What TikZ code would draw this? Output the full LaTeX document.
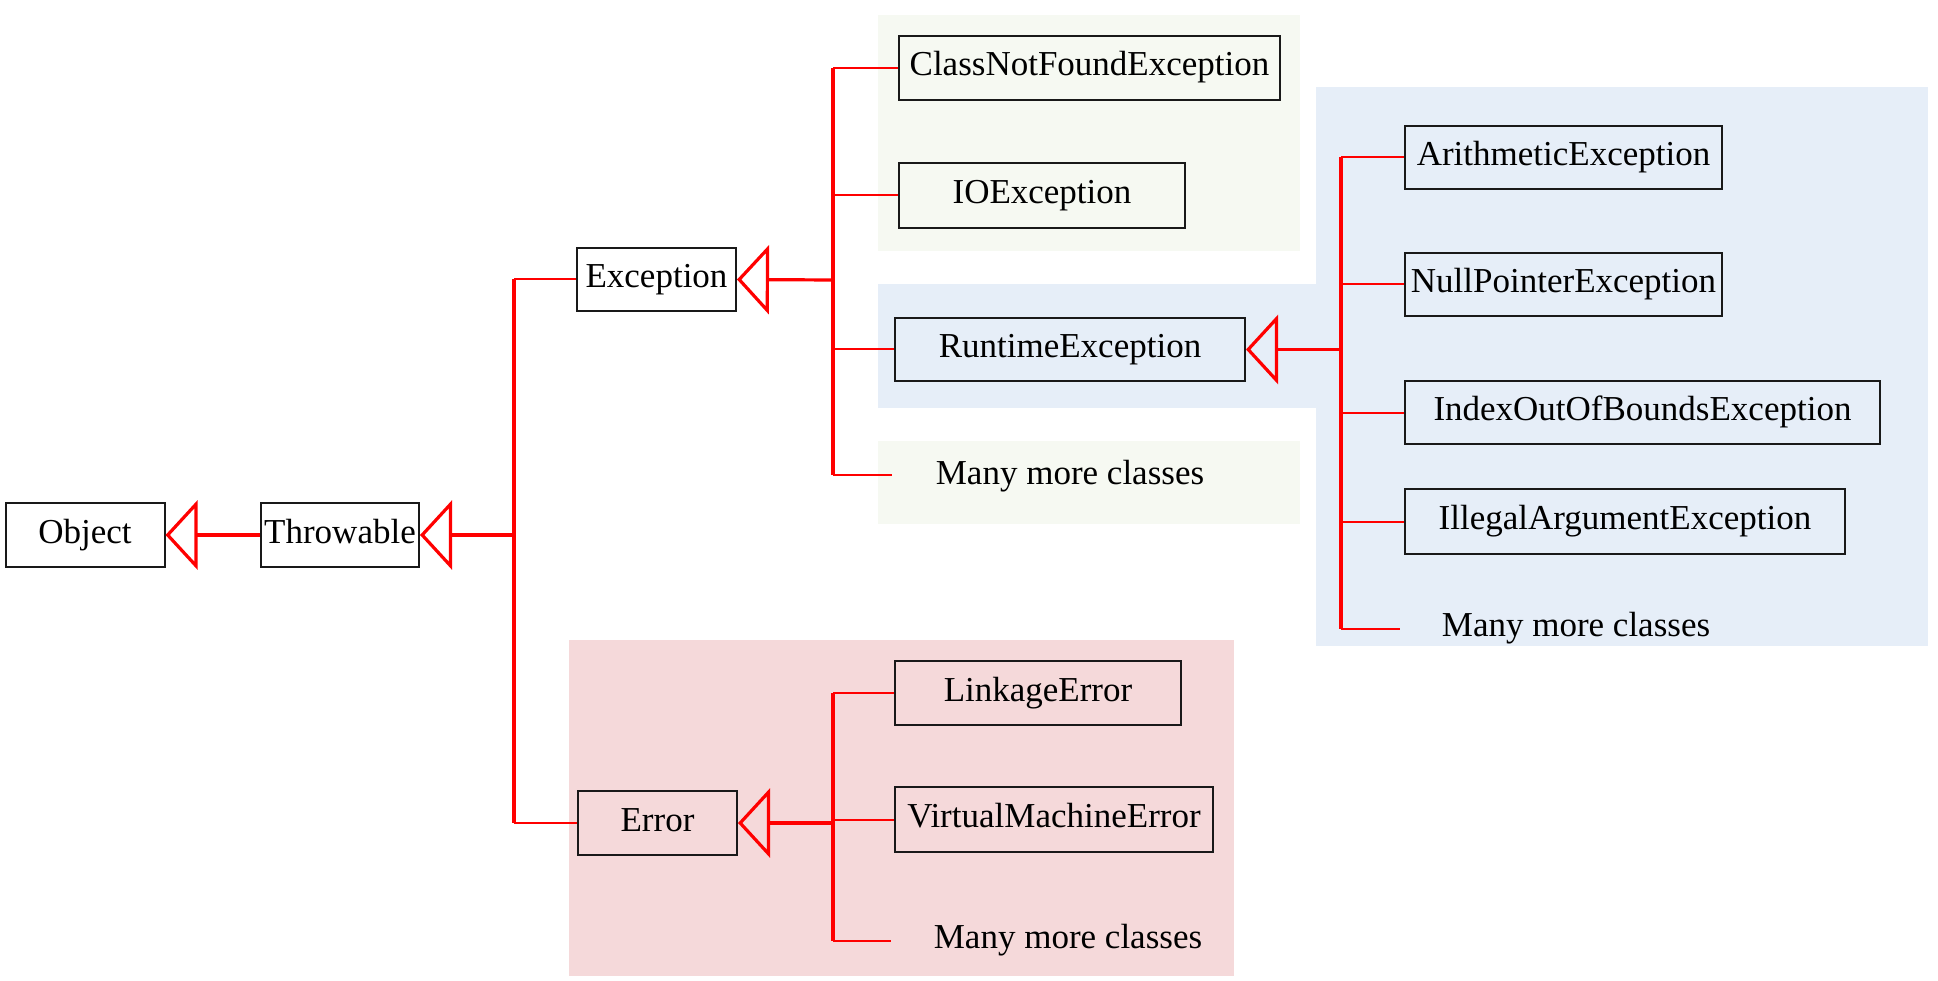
\documentclass[tikz,border=0pt]{standalone}
\usepackage{fontspec}
\setmainfont{Liberation Serif}
\usetikzlibrary{arrows.meta}
\definecolor{bggreen}{HTML}{F6F9F2}
\definecolor{bgblue}{HTML}{E6EEF8}
\definecolor{bgpink}{HTML}{F5D9DA}
\definecolor{linkred}{HTML}{FF0000}
\begin{document}
\begin{tikzpicture}[x=1pt,y=-1pt,
  txt/.style={inner sep=0pt, text height=24pt, text depth=8pt,
    font=\fontsize{35}{42}\selectfont},
  cls/.style={txt, draw=black!90, line width=2pt, anchor=center},
  bus/.style={draw=linkred, line width=3.5pt},
  stub/.style={draw=linkred, line width=2pt},
  inh/.style={draw=linkred, line width=3.2pt,
    -{Triangle[open, length=32pt, width=69pt]}}]
  \useasboundingbox (0,0) rectangle (1938,981);

  % background panels
  \fill[bggreen] (878,15) rectangle (1300,251);
  \fill[bggreen] (878,441) rectangle (1300,524);
  \fill[bgblue] (1316,87) rectangle (1928,646);
  \fill[bgblue] (878,284) rectangle (1316,408);
  \fill[bgpink] (569,640) rectangle (1234,976);

  % class boxes
  \node[cls, minimum width=159pt, minimum height=64pt] (obj) at (85,535) {Object};
  \node[cls, minimum width=158pt, minimum height=64pt] (thr) at (340,535) {Throwable};
  \node[cls, minimum width=159pt, minimum height=63pt] (exc) at (656.5,279.5) {Exception};
  \node[cls, minimum width=159pt, minimum height=64pt] (err) at (657.5,823) {Error};
  \node[cls, minimum width=381pt, minimum height=64pt] (cnf) at (1089.5,68) {ClassNotFoundException};
  \node[cls, minimum width=286pt, minimum height=65pt] (ioe) at (1042,195.5) {IOException};
  \node[cls, minimum width=350pt, minimum height=63pt] (rte) at (1070,349.5) {RuntimeException};
  \node[cls, minimum width=286pt, minimum height=64pt] (lnk) at (1038,693) {LinkageError};
  \node[cls, minimum width=318pt, minimum height=65pt] (vme) at (1054,819.5) {VirtualMachineError};
  \node[cls, minimum width=317pt, minimum height=63pt] (ari) at (1563.5,157.5) {ArithmeticException};
  \node[cls, minimum width=317pt, minimum height=63pt] (npe) at (1563.5,284.5) {NullPointerException};
  \node[cls, minimum width=475pt, minimum height=63pt] (iob) at (1642.5,412.5) {IndexOutOfBoundsException};
  \node[cls, minimum width=440pt, minimum height=65pt] (iae) at (1625,521.5) {IllegalArgumentException};

  % "many more" labels
  \node[txt] (mm1) at (1070,476) {Many more classes};
  \node[txt] (mm2) at (1576,628) {Many more classes};
  \node[txt] (mm3) at (1068,940) {Many more classes};

  % bus points and free stub ends
  \coordinate (tb) at (514,535);
  \coordinate (eb) at (833,280);
  \coordinate (rb) at (1341,349.5);
  \coordinate (xb) at (833,823);
  \coordinate (e4) at (892,475);
  \coordinate (r5) at (1400,629);
  \coordinate (x3) at (891,941);

  % Object <- Throwable
  \draw[inh] (thr.west) -- (obj.east);

  % Throwable <- Exception, Error
  \draw[bus] (tb |- exc.west) -- (tb |- err.west);
  \draw[stub] (tb |- exc.west) -- (exc.west);
  \draw[stub] (tb |- err.west) -- (err.west);
  \draw[inh] (tb) -- (thr.east);

  % Exception subclasses
  \draw[bus] (eb |- cnf.west) -- (eb |- e4);
  \draw[stub] (eb |- cnf.west) -- (cnf.west);
  \draw[stub] (eb |- ioe.west) -- (ioe.west);
  \draw[stub] (eb |- rte.west) -- (rte.west);
  \draw[stub] (eb |- e4) -- (e4);
  \draw[inh] (eb) -- (exc.east);

  % RuntimeException subclasses
  \draw[bus] (rb |- ari.west) -- (rb |- r5);
  \draw[stub] (rb |- ari.west) -- (ari.west);
  \draw[stub] (rb |- npe.west) -- (npe.west);
  \draw[stub] (rb |- iob.west) -- (iob.west);
  \draw[stub] (rb |- iae.west) -- (iae.west);
  \draw[stub] (rb |- r5) -- (r5);
  \draw[inh] (rb) -- (rte.east);

  % Error subclasses
  \draw[bus] (xb |- lnk.west) -- (xb |- x3);
  \draw[stub] (xb |- lnk.west) -- (lnk.west);
  \draw[stub] (xb |- vme.west) -- (vme.west);
  \draw[stub] (xb |- x3) -- (x3);
  \draw[inh] (xb) -- (err.east);
\end{tikzpicture}
\end{document}
